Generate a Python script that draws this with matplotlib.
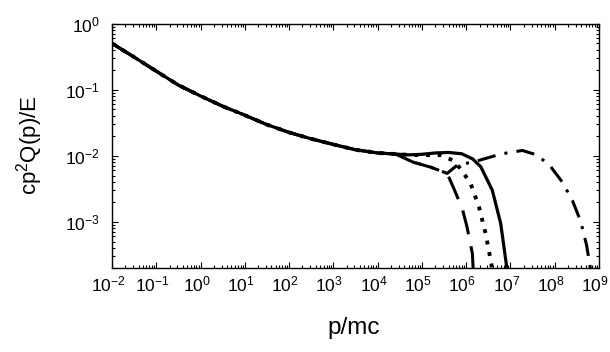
import numpy as np
import matplotlib
matplotlib.use("Agg")
import matplotlib.pyplot as plt
import matplotlib.transforms as mtransforms
from matplotlib.ticker import LogLocator, NullFormatter

plt.rcParams['font.family'] = ['Liberation Sans', 'DejaVu Sans']
plt.rcParams['mathtext.fontset'] = 'custom'
plt.rcParams['mathtext.rm'] = 'Liberation Sans'
plt.rcParams['mathtext.it'] = 'Liberation Sans'
plt.rcParams['axes.unicode_minus'] = False

# shared low-momentum part (log10 p/mc, value)
common_logp = [-2.0, -1.5, -1.0, -0.5, 0.0, 0.5, 1.0, 1.5, 2.0, 2.5, 3.0, 3.5, 4.0, 4.4]
common_q = [0.50, 0.31, 0.19, 0.117, 0.080, 0.056, 0.041, 0.0295, 0.0225, 0.018, 0.0148, 0.0123, 0.011, 0.0106]

# tails of each curve
solid_logp = [4.7, 5.0, 5.3, 5.6, 5.9, 6.15, 6.33, 6.59, 6.78, 6.91, 6.95]
solid_q = [0.0103, 0.0105, 0.011, 0.0112, 0.0107, 0.0089, 0.0068, 0.003, 9.4e-4, 2.2e-4, 1e-4]

dot_logp = [4.7, 5.0, 5.42, 5.7, 5.87, 6.1, 6.29, 6.44, 6.57, 6.62]
dot_q = [0.0103, 0.0102, 0.0102, 0.0085, 0.0064, 0.0038, 0.00167, 6.6e-4, 2.3e-4, 1e-4]

dash_logp = [4.8, 5.2, 5.57, 5.72, 5.91, 6.02, 6.14, 6.18]
dash_q = [0.0080, 0.0067, 0.0054, 0.0032, 0.0016, 8.3e-4, 3.3e-4, 1e-4]

dashdot_logp = [4.8, 5.2, 5.57, 5.8, 6.18, 6.7, 6.85, 7.27, 7.61, 7.91, 8.17, 8.4, 8.59, 8.72, 8.8, 8.83]
dashdot_q = [0.0080, 0.0067, 0.0054, 0.0072, 0.0081, 0.0102, 0.0108, 0.012, 0.0102, 0.0068, 0.0040, 0.0021, 1e-3, 4.4e-4, 2.1e-4, 1e-4]


def full(tail_logp, tail_q):
    lp = np.array(common_logp + tail_logp)
    return 10.0 ** lp, np.array(common_q + tail_q)


fig = plt.figure(figsize=(6.10, 3.52), dpi=100)
ax = fig.add_axes([112 / 610, 1 - 268 / 352, 487 / 610, 244.5 / 352])

x, y = full(dashdot_logp, dashdot_q)
ax.plot(x, y, color='k', lw=2.2, dashes=(6, 3, 1, 3))
x, y = full(dash_logp, dash_q)
ax.plot(x, y, color='k', lw=2.2, dashes=(8, 4))
x, y = full(dot_logp, dot_q)
ax.plot(x, y, color='k', lw=2.8, dashes=(1, 2))
x, y = full(solid_logp, solid_q)
ax.plot(x, y, color='k', lw=2.3)

ax.set_xscale('log')
ax.set_yscale('log')
ax.set_xlim(1e-2, 1e9)
ax.set_ylim(2e-4, 1)

ax.xaxis.set_major_locator(LogLocator(base=10, numticks=20))
ax.xaxis.set_minor_locator(LogLocator(base=10, subs=np.arange(2, 10), numticks=20))
ax.xaxis.set_minor_formatter(NullFormatter())
ax.yaxis.set_major_locator(LogLocator(base=10, numticks=20))
ax.yaxis.set_minor_locator(LogLocator(base=10, subs=np.arange(2, 10), numticks=20))
ax.yaxis.set_minor_formatter(NullFormatter())

ax.tick_params(which='both', direction='in', top=True, right=True, width=0.8)
ax.tick_params(which='major', length=4)
ax.tick_params(which='minor', length=2)
ax.tick_params(axis='x', which='major', labelsize=12.5, pad=5)
ax.tick_params(axis='y', which='major', labelsize=12.5, pad=9)
for s in ax.spines.values():
    s.set_linewidth(1.0)

# labels sit a little left of their ticks, as in the original
fig.canvas.draw()
xlabels = ax.get_xticklabels()
for i, lab in enumerate(xlabels):
    shift = -9 if i == len(xlabels) - 1 else -4
    lab.set_transform(lab.get_transform() +
                      mtransforms.ScaledTranslation(shift / 100, 0, fig.dpi_scale_trans))

fig.text(30 / 610, 1 - 145 / 352, r'cp$^{2}$Q(p)/E', rotation=90,
         ha='center', va='center', fontsize=16)
fig.text(354 / 610, 1 - 328 / 352, 'p/mc', ha='center', va='center', fontsize=17.5)

fig.savefig('out.png', dpi=100)
